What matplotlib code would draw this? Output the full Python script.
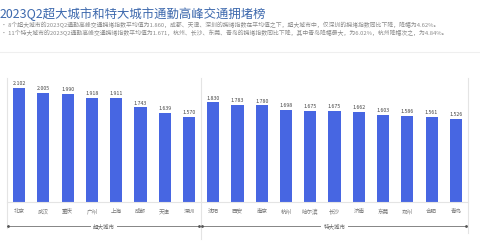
import matplotlib
matplotlib.use("Agg")
import matplotlib.pyplot as plt
import matplotlib.transforms as mtransforms

plt.rcParams['font.family'] = ['Noto Sans CJK SC', 'DejaVu Sans']

cities = ['北京', '武汉', '重庆', '广州', '上海', '成都', '天津', '深圳',
          '沈阳', '西安', '南京', '杭州', '哈尔滨', '长沙', '济南', '东莞', '郑州', '合肥', '青岛']
values = [2.102, 2.005, 1.990, 1.918, 1.911, 1.743, 1.639, 1.570,
          1.830, 1.783, 1.780, 1.698, 1.675, 1.675, 1.662, 1.603, 1.586, 1.561, 1.526]
groups = ['超大城市', '特大城市']
group_sizes = [8, 11]

title = '2023Q2超大城市和特大城市通勤高峰交通拥堵榜'
notes = ['· 8个超大城市的2023Q2通勤高峰交通拥堵指数平均值为1.860，成都、天津、深圳的拥堵指数在平均值之下，超大城市中，仅深圳的拥堵指数同比下降，降幅为4.62%。',
         '· 11个特大城市的2023Q2通勤高峰交通拥堵指数平均值为1.671，杭州、长沙、东莞、青岛的拥堵指数同比下降，其中青岛降幅最大，为6.02%，杭州降幅次之，为4.84%。']

bar_color = '#4766e2'
line_color = '#e4e4e4'

fig = plt.figure(figsize=(4.8, 2.41), dpi=100)
W, H = 480, 241

def fx(px):
    return px / W

def fy(py):
    return 1 - py / H

fig.text(fx(0), fy(14), title, fontsize=8.9, color='#3c68ad', va='center', ha='left')
fig.text(fx(1), fy(25), notes[0], fontsize=4.2, color='#8a8a8a', va='center', ha='left')
fig.text(fx(1), fy(33), notes[1], fontsize=4.2, color='#8a8a8a', va='center', ha='left')
fig.add_artist(plt.Line2D([0, 1], [fy(52), fy(52)], color='#efefef', lw=0.8))

ax = fig.add_axes([fx(7), fy(202), fx(461), fy(78) - fy(202)])
x = list(range(len(values)))
bars = ax.bar(x, values, width=0.5, color=bar_color)
ax.set_xlim(-0.5, len(values) - 0.5)
ax.set_ylim(0, 2.28)
for b, v in zip(bars, values):
    ax.text(b.get_x() + b.get_width() / 2, v + 0.03, f'{v:.3f}', ha='center', va='bottom',
            fontsize=3.8, color='#444444')

ax.set_xticks(x)
ax.set_xticklabels(cities, fontsize=4, color='#777777')
ax.tick_params(axis='x', length=0, pad=5)
ax.set_yticks([])
for s in ['top', 'left', 'right']:
    ax.spines[s].set_visible(False)
ax.spines['bottom'].set_color(line_color)
ax.spines['bottom'].set_linewidth(0.8)

# group separators and brackets
tr = mtransforms.blended_transform_factory(ax.transData, ax.transAxes)
edges = [-0.5]
for n in group_sizes:
    edges.append(edges[-1] + n)
ax.plot([edges[0], edges[0]], [-0.21, 1], transform=tr, color=line_color, lw=0.8, clip_on=False)
ax.plot([edges[1], edges[1]], [-0.3, 1], transform=tr, color=line_color, lw=0.8, clip_on=False)
ax.plot([edges[2], edges[2]], [-0.25, 1], transform=tr, color=line_color, lw=0.8, clip_on=False)

yb = -0.194
for i, g in enumerate(groups):
    a, b = edges[i] + 0.05, edges[i + 1] - 0.1
    mid = (edges[i] + edges[i + 1]) / 2
    ax.plot([a, b], [yb, yb], transform=tr, color='#555555', lw=0.5, clip_on=False)
    ax.plot([a, b], [yb, yb], 'o', ms=1, transform=tr, color='#555555', clip_on=False)
    ax.text(mid, yb, g, transform=tr, ha='center', va='center', fontsize=4, color='#666666',
            bbox=dict(facecolor='white', edgecolor='none', pad=1.5))

fig.savefig('out.png', dpi=100)
